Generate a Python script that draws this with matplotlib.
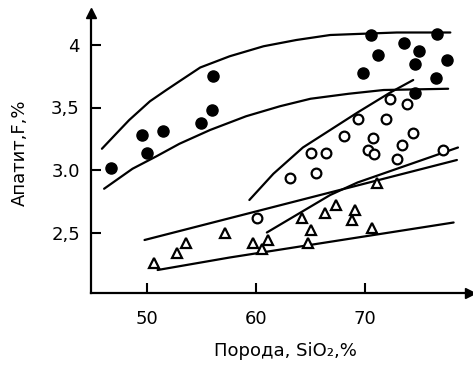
import matplotlib
matplotlib.use("Agg")
import matplotlib.pyplot as plt
from matplotlib.ticker import FixedLocator, FixedFormatter

plt.rcParams['font.family'] = ['DejaVu Sans']

# --- data (SiO2 %, F %) ---
filled_x = [46.7, 49.6, 50.0, 51.5, 55.0, 56.0, 56.1,
            70.5, 76.6, 73.6, 74.9, 71.2, 69.8, 74.6, 77.5, 76.5, 74.6]
filled_y = [3.02, 3.28, 3.14, 3.31, 3.38, 3.48, 3.75,
            4.08, 4.09, 4.02, 3.95, 3.92, 3.78, 3.85, 3.88, 3.74, 3.62]

open_x = [60.1, 63.1, 65.5, 65.0, 66.4, 68.1, 69.3, 70.7, 70.3, 70.8,
          71.9, 72.3, 73.8, 74.4, 73.4, 72.9, 77.1]
open_y = [2.62, 2.94, 2.98, 3.14, 3.14, 3.27, 3.41, 3.26, 3.16, 3.13,
          3.41, 3.57, 3.53, 3.30, 3.20, 3.09, 3.16]

tri_x = [50.7, 52.8, 53.6, 57.2, 59.7, 61.1, 60.6, 64.2, 65.0, 64.8,
         66.3, 67.3, 69.1, 68.8, 70.6, 71.1]
tri_y = [2.26, 2.34, 2.42, 2.50, 2.42, 2.44, 2.37, 2.62, 2.52, 2.42,
         2.66, 2.72, 2.68, 2.60, 2.54, 2.90]

# boundary curves
u1_x = [45.9, 47.2, 48.4, 50.3, 51.8, 53.0, 54.9, 56.7, 57.6, 60.7, 63.7, 66.8, 69.8, 72.9, 77.8]
u1_y = [3.17, 3.29, 3.40, 3.55, 3.64, 3.71, 3.82, 3.88, 3.91, 3.99, 4.04, 4.08, 4.09, 4.10, 4.10]
l1_x = [46.1, 48.7, 50.9, 53.0, 55.8, 59.1, 62.2, 65.0, 68.5, 71.7, 77.6]
l1_y = [2.85, 3.01, 3.11, 3.21, 3.32, 3.43, 3.51, 3.57, 3.61, 3.64, 3.65]
d_x = [59.4, 61.6, 64.3, 66.8, 69.3, 72.3, 74.4]
d_y = [2.76, 2.97, 3.18, 3.32, 3.46, 3.62, 3.72]
a_x = [49.8, 78.4]
a_y = [2.44, 3.08]
b_x = [61.0, 66.8, 69.3, 78.5]
b_y = [2.50, 2.80, 2.90, 3.18]
c_x = [51.0, 57.6, 78.1]
c_y = [2.20, 2.30, 2.58]

xticks = [50, 60, 70]
xticklabels = ['50', '60', '70']
yticks = [2.5, 3.0, 3.5, 4.0]
yticklabels = ['2,5', '3.0', '3,5', '4']

W, H = 473, 366
fig = plt.figure(figsize=(W / 100, H / 100), dpi=100)
ax = fig.add_axes([91 / W, 1 - 293 / H, (470 - 91) / W, (293 - 13) / H])

lw = 1.6
for xs, ys in [(u1_x, u1_y), (l1_x, l1_y), (d_x, d_y), (a_x, a_y), (b_x, b_y), (c_x, c_y)]:
    ax.plot(xs, ys, color='black', lw=lw, solid_capstyle='round', solid_joinstyle='round')

ax.plot(filled_x, filled_y, 'o', color='black', ms=8, mec='black')
ax.plot(open_x, open_y, 'o', mfc='white', mec='black', ms=7, mew=1.6)
ax.plot(tri_x, tri_y, '^', mfc='white', mec='black', ms=7, mew=1.6)

ax.set_xlim(44.9, 79.6)
ax.set_ylim(2.016, 4.256)

for s in ['top', 'right']:
    ax.spines[s].set_visible(False)
for s in ['left', 'bottom']:
    ax.spines[s].set_linewidth(1.6)

ax.plot(1, 0, '>', color='black', ms=7, transform=ax.transAxes, clip_on=False)
ax.plot(0, 1, '^', color='black', ms=7, transform=ax.transAxes, clip_on=False)

ax.xaxis.set_major_locator(FixedLocator(xticks))
ax.xaxis.set_major_formatter(FixedFormatter(xticklabels))
ax.yaxis.set_major_locator(FixedLocator(yticks))
ax.yaxis.set_major_formatter(FixedFormatter(yticklabels))
ax.tick_params(direction='in', length=7, width=1.5, labelsize=13)
ax.tick_params(axis='x', pad=12)
ax.tick_params(axis='y', pad=8)

fig.text(285 / W, 1 - 351 / H, 'Порода, SiO₂,%', ha='center', va='center', fontsize=13)
fig.text(20 / W, 1 - 153 / H, 'Апатит,F,%', ha='center', va='center', fontsize=13, rotation=90)

fig.savefig('out.png', dpi=100)
